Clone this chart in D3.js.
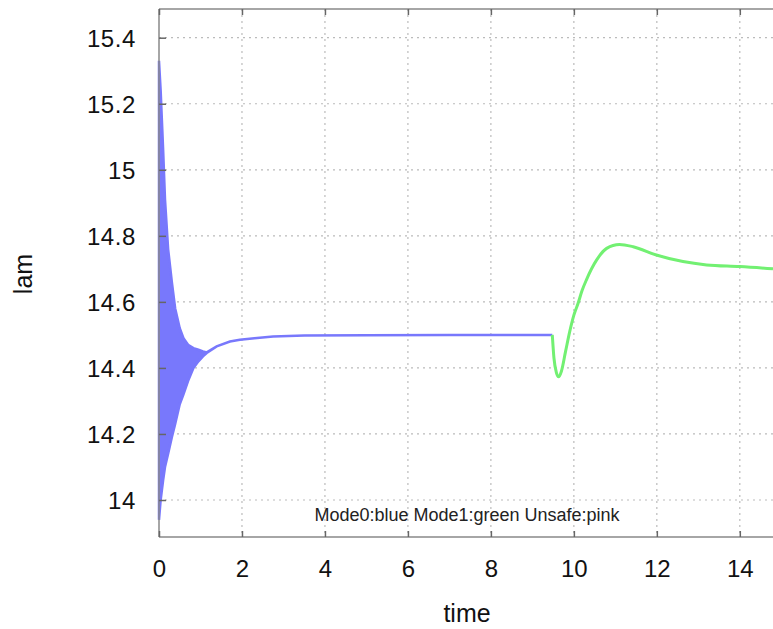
<!DOCTYPE html>
<html>
<head>
<meta charset="utf-8">
<script src="https://cdn.jsdelivr.net/npm/d3@7"></script>
<style>
  body { margin: 0; background: #fff; }
  svg { display: block; font-family: "Liberation Sans", Arial, sans-serif; }
</style>
</head>
<body>
<svg id="chart" width="773" height="629"></svg>
<script>
// Mode0 (blue): oscillating band, given as upper / lower envelope
const blueTime  = [0, 0.04, 0.07, 0.10, 0.145, 0.22, 0.31, 0.39, 0.5, 0.59, 0.7, 0.83, 0.95, 1.06, 1.15, 1.39, 1.71, 1.95, 2.3, 2.75, 3.5, 5, 7, 9.48];
const blueUpper = [15.33, 15.24, 15.15, 15.06, 14.91, 14.76, 14.66, 14.58, 14.52, 14.49, 14.47, 14.46, 14.455, 14.45, 14.447, 14.465, 14.48, 14.485, 14.49, 14.495, 14.498, 14.499, 14.5, 14.5];
const blueLower = [13.94, 14.0, 14.03, 14.06, 14.1, 14.14, 14.19, 14.23, 14.29, 14.32, 14.36, 14.40, 14.42, 14.435, 14.445, 14.465, 14.48, 14.485, 14.49, 14.495, 14.498, 14.499, 14.5, 14.5];

// Mode1 (green)
const greenTime  = [9.48, 9.52, 9.58, 9.63, 9.7, 9.8, 9.9, 10.0, 10.1, 10.2, 10.3, 10.55, 10.79, 11.1, 11.43, 11.99, 12.63, 13.2, 14.0, 14.8];
const greenValue = [14.5, 14.43, 14.385, 14.373, 14.39, 14.45, 14.51, 14.56, 14.595, 14.635, 14.666, 14.727, 14.762, 14.774, 14.767, 14.742, 14.722, 14.712, 14.707, 14.70];

const xTicks = [0, 2, 4, 6, 8, 10, 12, 14];
const yTicks = [14, 14.2, 14.4, 14.6, 14.8, 15, 15.2, 15.4];

const plotL = 159, plotT = 9, plotB = 537, plotR = 773;

const svg = d3.select("#chart");

const x = d3.scaleLinear().domain([0, 14.8]).range([plotL, plotR]);
const y = d3.scaleLinear().domain([14, 15.4]).range([500, 37.7]);

// grid
const grid = svg.append("g");
grid.selectAll("line.gx")
  .data(xTicks.filter(d => d > 0))
  .join("line")
    .attr("class", "gx")
    .attr("x1", d => x(d)).attr("x2", d => x(d))
    .attr("y1", plotT).attr("y2", plotB)
    .attr("stroke", "#bbb").attr("stroke-width", 1.2)
    .attr("stroke-dasharray", "2,4");
grid.selectAll("line.gy")
  .data(yTicks)
  .join("line")
    .attr("class", "gy")
    .attr("x1", plotL).attr("x2", plotR)
    .attr("y1", d => y(d)).attr("y2", d => y(d))
    .attr("stroke", "#bbb").attr("stroke-width", 1.2)
    .attr("stroke-dasharray", "2,4");

// blue band
const blueData = blueTime.map((t, i) => ({ t, hi: blueUpper[i], lo: blueLower[i] }));
svg.append("path")
  .datum(blueData)
  .attr("d", d3.area().x(d => x(d.t)).y0(d => y(d.lo)).y1(d => y(d.hi)))
  .attr("fill", "#7878fc")
  .attr("stroke", "#7878fc")
  .attr("stroke-width", 2.5);

// green
const greenData = greenTime.map((t, i) => ({ t, v: greenValue[i] }));
svg.append("path")
  .datum(greenData)
  .attr("d", d3.line().x(d => x(d.t)).y(d => y(d.v)).curve(d3.curveMonotoneX))
  .attr("fill", "none")
  .attr("stroke", "#72f072")
  .attr("stroke-width", 3);

// frame
const frame = svg.append("g").attr("stroke", "#888").attr("stroke-width", 1.5);
frame.append("line").attr("x1", plotL).attr("x2", plotL).attr("y1", plotT).attr("y2", plotB);
frame.append("line").attr("x1", plotL).attr("x2", plotR).attr("y1", plotB).attr("y2", plotB);
frame.append("line").attr("x1", plotL).attr("x2", plotR).attr("y1", plotT).attr("y2", plotT);

// axes (ticks inward)
const xAxis = svg.append("g").attr("transform", `translate(0,${plotB})`)
  .call(d3.axisBottom(x).tickValues(xTicks).tickSizeInner(-6).tickSizeOuter(0).tickPadding(23).tickFormat(d3.format("d")));
const xAxisTop = svg.append("g").attr("transform", `translate(0,${plotT})`)
  .call(d3.axisTop(x).tickValues(xTicks).tickSizeInner(-6).tickSizeOuter(0).tickFormat(""));
const yAxis = svg.append("g").attr("transform", `translate(${plotL},0)`)
  .call(d3.axisLeft(y).tickValues(yTicks).tickSizeInner(-7).tickSizeOuter(0).tickPadding(23).tickFormat(d => d3.format("~g")(d)));

[xAxis, xAxisTop, yAxis].forEach(g => {
  g.select(".domain").remove();
  g.selectAll(".tick line").attr("stroke", "#666").attr("stroke-width", 1.5);
  g.selectAll("text")
    .attr("fill", "#111")
    .attr("font-size", 24)
    .attr("font-family", "Liberation Sans, Arial, sans-serif");
});
yAxis.selectAll("text").attr("dy", "0.36em").style("letter-spacing", "0.6px");

// axis titles
svg.append("text")
  .attr("x", 467).attr("y", 622)
  .attr("text-anchor", "middle")
  .attr("font-size", 25).attr("fill", "#111")
  .text("time");
svg.append("text")
  .attr("transform", "translate(32,274) rotate(-90)")
  .attr("text-anchor", "middle")
  .attr("font-size", 25).attr("fill", "#111")
  .text("lam");

// legend note
svg.append("text")
  .attr("x", 467).attr("y", 521)
  .attr("text-anchor", "middle")
  .attr("font-size", 18).attr("fill", "#222")
  .text("Mode0:blue Mode1:green Unsafe:pink");
</script>
</body>
</html>
